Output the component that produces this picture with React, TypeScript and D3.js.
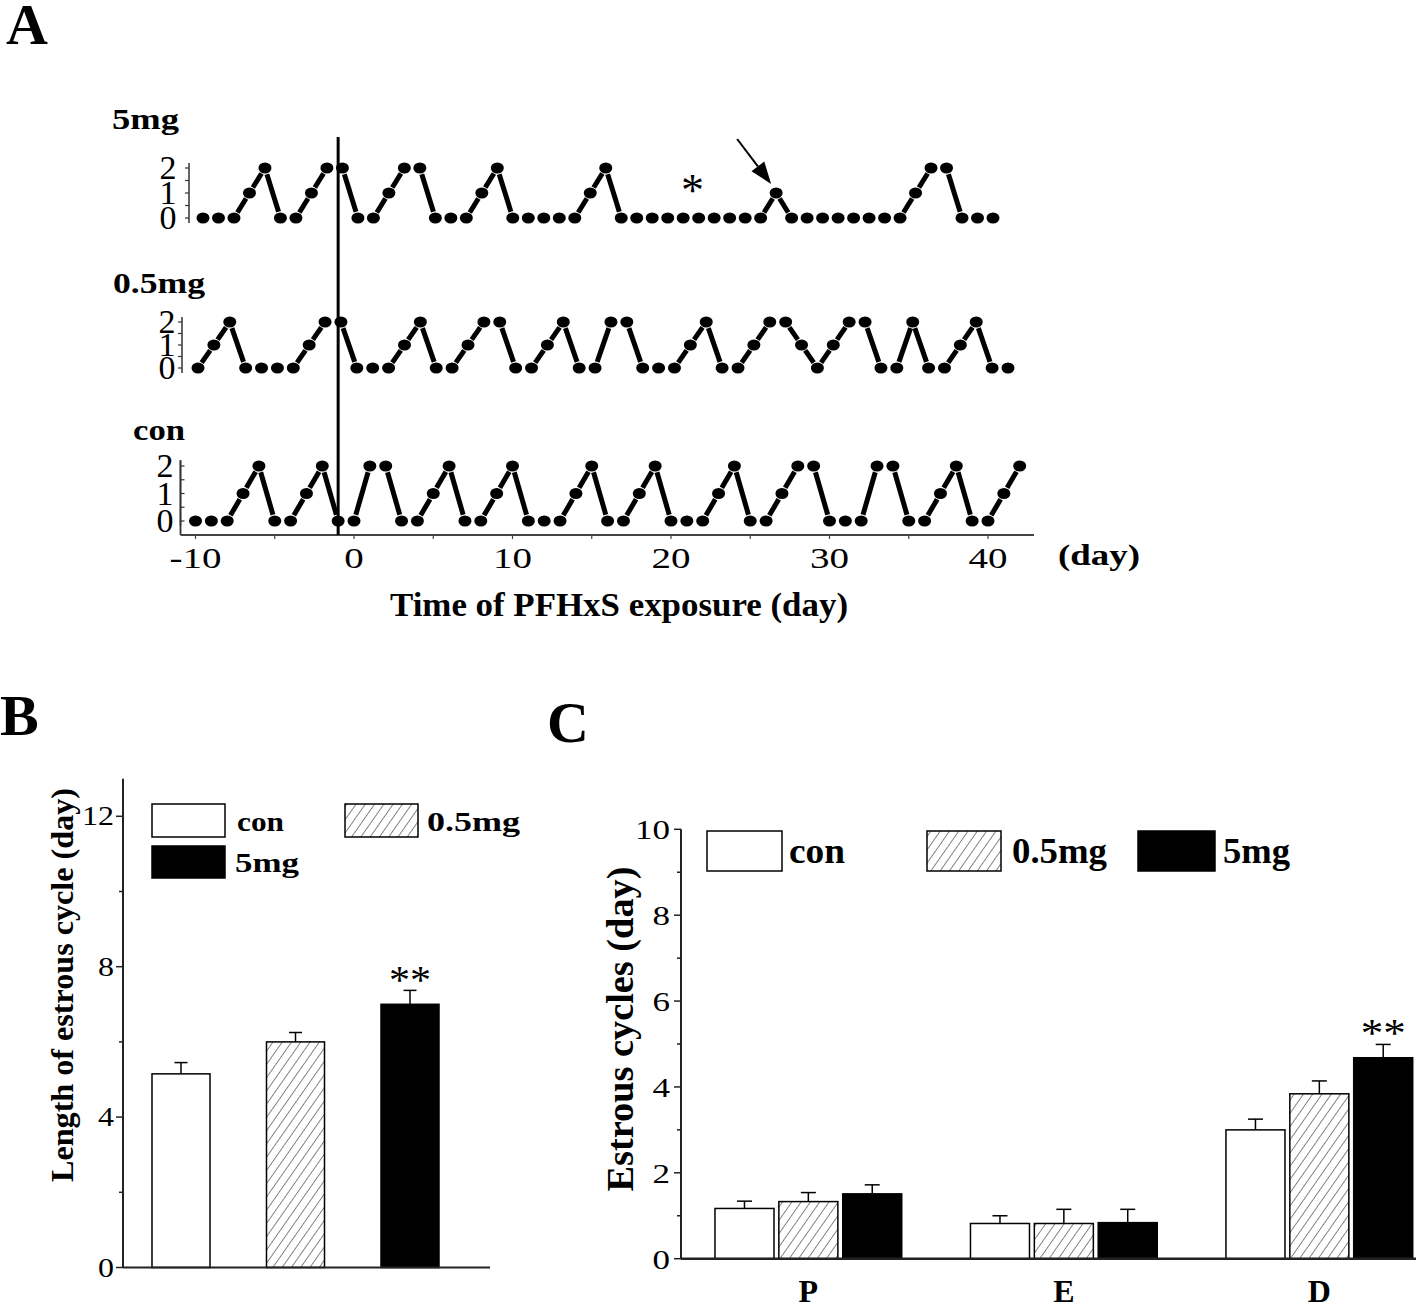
import React from 'react';
import * as d3 from 'd3';

// estrous stage per day (0 = D, 1 = P, 2 = E)
const stageHigh = [0,0,0,1,2, 0,0,1,2,2, 0,0,1,2,2, 0,0,0,1,2, 0,0,0,0,0, 1,2,0,0,0, 0,0,0,0,0, 0,0,1,0,0, 0,0,0,0,0, 0,1,2,2,0, 0,0];
const stageLow = [0,1,2,0,0, 0,0,1,2,2, 0,0,0,1,2, 0,0,1,2,2, 0,0,1,2,0, 0,2,2,0,0, 0,1,2,0,0, 1,2,2,1,0, 1,2,2,0,0, 2,0,0,1,2, 0,0];
const stageCon = [0,0,0,1,2, 0,0,1,2,0, 0,2,2,0,0, 1,2,0,0,1, 2,0,0,0,1, 2,0,0,1,2, 0,0,0,1,2, 0,0,1,2,2, 0,0,0,2,2, 0,0,1,2,0, 0,1,2];
const dayTicks = [-10, 0, 10, 20, 30, 40];
const stageTicks = [0, 1, 2];

// panel B
const groups = ['con', '0.5mg', '5mg'];
const cycleLength = [5.15, 6.0, 7.0];
const cycleLengthErr = [0.3, 0.25, 0.37];
const bTicks = [0, 4, 8, 12];

// panel C
const phases = ['P', 'E', 'D'];
const phaseCon = [1.17, 0.82, 3.0];
const phaseConErr = [0.17, 0.18, 0.25];
const phaseLow = [1.33, 0.82, 3.84];
const phaseLowErr = [0.21, 0.33, 0.3];
const phaseHigh = [1.51, 0.84, 4.68];
const phaseHighErr = [0.21, 0.31, 0.31];
const cTicks = [0, 2, 4, 6, 8, 10];

const serif = 'Liberation Serif, Times New Roman, serif';
const fills = ['#fff', 'url(#hatch)', '#000'];

function Txt(p: any) {
  const extra: any = {};
  if (p.width) {
    extra.textLength = p.width;
    extra.lengthAdjust = 'spacingAndGlyphs';
  }
  return (
    <text
      x={p.x}
      y={p.y}
      transform={p.transform}
      fontSize={p.size}
      style={{ fontFamily: serif }}
      fontWeight={p.bold ? 'bold' : 'normal'}
      textAnchor={p.anchor || 'start'}
      {...extra}
    >
      {p.children}
    </text>
  );
}

function StageRow({ values, xs, ys, axisX, tickSide, labelX }: any) {
  const pts = values.map((v: number, i: number) => [xs(i), ys(v)]);
  const gap = 6.5;
  const segs: any[] = [];
  for (let i = 0; i < pts.length - 1; i++) {
    if (values[i] === values[i + 1]) continue;
    const [ax, ay] = pts[i];
    const [bx, by] = pts[i + 1];
    const len = Math.hypot(bx - ax, by - ay);
    const ux = (bx - ax) / len, uy = (by - ay) / len;
    segs.push(
      <line key={i} x1={ax + ux * gap} y1={ay + uy * gap} x2={bx - ux * gap} y2={by - uy * gap}
        stroke="#000" strokeWidth={5} />
    );
  }
  const minor = [0, 0.5, 1, 1.5, 2];
  return (
    <g>
      <line x1={axisX} x2={axisX} y1={ys(2) - 5} y2={ys(0) + 5} stroke="#333" strokeWidth={1.5} />
      {minor.map(t => (
        <line key={t} x1={axisX} x2={axisX + tickSide * 4} y1={ys(t)} y2={ys(t)} stroke="#333" strokeWidth={1.2} />
      ))}
      {stageTicks.map(t => (
        <Txt key={t} x={labelX} y={ys(t) + 11} size={33} anchor="middle" width={17}>{t}</Txt>
      ))}
      {segs}
      {pts.map(([x, y]: number[], i: number) => (
        <ellipse key={i} cx={x} cy={y} rx={6.5} ry={5.5} fill="#000" />
      ))}
    </g>
  );
}

function PanelA() {
  const xDay = d3.scaleLinear().domain([-10, 40]).range([195.5, 988]);
  const xsHigh = d3.scaleLinear().domain([0, stageHigh.length - 1]).range([203, 993]);
  const xsLow = d3.scaleLinear().domain([0, stageLow.length - 1]).range([198, 1008]);
  const xsCon = (i: number) => xDay(-10 + i);
  const ysHigh = d3.scaleLinear().domain([0, 2]).range([218, 168]);
  const ysLow = d3.scaleLinear().domain([0, 2]).range([368, 322]);
  const ysCon = d3.scaleLinear().domain([0, 2]).range([521, 466]);
  const axisY = 535;

  // arrow pointing at the lone proestrus day of the 5mg rat
  const tipX = xsHigh(37) - 5, tipY = ysHigh(1) - 9;
  const tailX = tipX - 34, tailY = tipY - 45;
  const L = Math.hypot(tipX - tailX, tipY - tailY);
  const ux = (tipX - tailX) / L, uy = (tipY - tailY) / L;
  const bx = tipX - ux * 22, by = tipY - uy * 22;
  const head = `${tipX},${tipY} ${bx - uy * 8},${by + ux * 8} ${bx + uy * 8},${by - ux * 8}`;

  return (
    <g>
      <Txt x={6} y={44} size={58} bold>A</Txt>
      <Txt x={112} y={129} size={30} bold width={67}>5mg</Txt>
      <Txt x={113} y={293} size={30} bold width={92}>0.5mg</Txt>
      <Txt x={133} y={440} size={30} bold width={52}>con</Txt>

      <StageRow values={stageHigh} xs={xsHigh} ys={ysHigh} axisX={189} tickSide={-1} labelX={168} />
      <StageRow values={stageLow} xs={xsLow} ys={ysLow} axisX={182} tickSide={-1} labelX={167} />
      <StageRow values={stageCon} xs={xsCon} ys={ysCon} axisX={180.5} tickSide={1} labelX={165} />

      <line x1={180.5} x2={180.5} y1={460} y2={axisY} stroke="#333" strokeWidth={1.8} />
      <line x1={180.5} x2={1034} y1={axisY} y2={axisY} stroke="#444" strokeWidth={2} />
      {d3.range(-10, 45, 5).map(t => (
        <line key={t} x1={xDay(t)} x2={xDay(t)} y1={axisY} y2={axisY + 4} stroke="#444" strokeWidth={1.2} />
      ))}
      {dayTicks.map(t => (
        <Txt key={t} x={xDay(t)} y={568} size={30} anchor="middle"
          width={String(t).replace('-', '').length * 19.5 + (t < 0 ? 13 : 0)}>{t}</Txt>
      ))}
      <Txt x={1058} y={565} size={30} bold width={82}>(day)</Txt>
      <Txt x={619} y={616} size={34} bold anchor="middle" width={458}>Time of PFHxS exposure (day)</Txt>

      <line x1={xDay(-1)} x2={xDay(-1)} y1={137} y2={axisY} stroke="#000" strokeWidth={3} />

      <Txt x={xsHigh(31.6)} y={206} size={46} anchor="middle" width={23}>*</Txt>
      <line x1={tailX} y1={tailY} x2={bx} y2={by} stroke="#000" strokeWidth={2} />
      <polygon points={head} fill="#000" />
    </g>
  );
}

function ErrBar({ x, yTop, yErr, half }: any) {
  return (
    <g stroke="#000" strokeWidth={1.5}>
      <line x1={x} x2={x} y1={yTop} y2={yErr} />
      <line x1={x - half} x2={x + half} y1={yErr} y2={yErr} />
    </g>
  );
}

function PanelB() {
  const y = d3.scaleLinear().domain([0, 13]).range([1267.5, 778.7]);
  const x = d3.scaleBand().domain(groups).range([124, 467]).paddingInner(0.4934).paddingOuter(0.2445);
  const bw = x.bandwidth();
  const axX = 123;
  return (
    <g>
      <Txt x={0} y={735} size={58} bold>B</Txt>
      <Txt transform={`translate(73,985) rotate(-90)`} size={31} bold anchor="middle" width={394}>
        Length of estrous cycle (day)
      </Txt>
      {groups.map((g, i) => (
        <g key={g}>
          <rect x={x(g)} y={y(cycleLength[i])} width={bw} height={y(0) - y(cycleLength[i])}
            fill={fills[i]} stroke="#000" strokeWidth={1.5} />
          <ErrBar x={(x(g) as number) + bw / 2} yTop={y(cycleLength[i])}
            yErr={y(cycleLength[i] + cycleLengthErr[i])} half={6.5} />
        </g>
      ))}
      <line x1={axX} x2={axX} y1={y(13)} y2={y(0)} stroke="#222" strokeWidth={2} />
      <line x1={axX} x2={490} y1={y(0)} y2={y(0)} stroke="#222" strokeWidth={2} />
      {d3.range(0, 13, 2).map(t => (
        <line key={t} x1={axX} x2={axX - (t % 4 === 0 ? 7 : 4)} y1={y(t)} y2={y(t)} stroke="#222" strokeWidth={1.5} />
      ))}
      {bTicks.map(t => (
        <Txt key={t} x={114} y={y(t) + 9} size={27} anchor="end" width={String(t).length * 16}>{t}</Txt>
      ))}
      <Txt x={(x('5mg') as number) + bw / 2} y={993} size={40} anchor="middle" width={42}>**</Txt>

      <rect x={152} y={804} width={73} height={33} fill="#fff" stroke="#000" strokeWidth={1.5} />
      <Txt x={237} y={831} size={28} bold width={47}>con</Txt>
      <rect x={345} y={804} width={73} height={33} fill="url(#hatch)" stroke="#000" strokeWidth={1.5} />
      <Txt x={427} y={831} size={28} bold width={93}>0.5mg</Txt>
      <rect x={152} y={846} width={73} height={32} fill="#000" stroke="#000" strokeWidth={1.5} />
      <Txt x={235} y={872} size={28} bold width={64}>5mg</Txt>
    </g>
  );
}

function PanelC() {
  const y = d3.scaleLinear().domain([0, 10]).range([1258.7, 829.3]);
  const x = d3.scaleBand().domain(phases).range([681, 1446.7]).paddingInner(0.269).paddingOuter(0.133);
  const xs = d3.scaleBand().domain(groups).range([0, x.bandwidth()]).paddingInner(0.076);
  const bw = xs.bandwidth();
  const series = [
    { vals: phaseCon, errs: phaseConErr },
    { vals: phaseLow, errs: phaseLowErr },
    { vals: phaseHigh, errs: phaseHighErr },
  ];
  const axX = 681;
  return (
    <g>
      <Txt x={547} y={742} size={58} bold>C</Txt>
      <Txt transform={`translate(633,1029) rotate(-90)`} size={37} bold anchor="middle" width={325}>
        Estrous cycles (day)
      </Txt>
      {phases.map((ph, j) => (
        <g key={ph}>
          {series.map((s, i) => {
            const bx = (x(ph) as number) + (xs(groups[i]) as number);
            return (
              <g key={i}>
                <rect x={bx} y={y(s.vals[j])} width={bw} height={y(0) - y(s.vals[j])}
                  fill={fills[i]} stroke="#000" strokeWidth={1.5} />
                <ErrBar x={bx + bw / 2} yTop={y(s.vals[j])} yErr={y(s.vals[j] + s.errs[j])} half={7.5} />
              </g>
            );
          })}
          <Txt x={(x(ph) as number) + x.bandwidth() / 2} y={1302} size={32} bold anchor="middle">{ph}</Txt>
        </g>
      ))}
      <line x1={axX} x2={axX} y1={y(10)} y2={y(0)} stroke="#222" strokeWidth={2} />
      <line x1={axX} x2={1416} y1={y(0)} y2={y(0)} stroke="#222" strokeWidth={2.5} />
      {d3.range(0, 11).map(t => (
        <line key={t} x1={axX} x2={axX - (t % 2 === 0 ? 7 : 4)} y1={y(t)} y2={y(t)} stroke="#222" strokeWidth={1.5} />
      ))}
      {cTicks.map(t => (
        <Txt key={t} x={670} y={y(t) + 10} size={28} anchor="end" width={String(t).length * 17.5}>{t}</Txt>
      ))}
      <Txt x={(x('D') as number) + (xs('5mg') as number) + bw / 2} y={1046} size={40} anchor="middle" width={45}>**</Txt>

      <rect x={707} y={831} width={75} height={40} fill="#fff" stroke="#000" strokeWidth={1.5} />
      <Txt x={789} y={863} size={36} bold width={56}>con</Txt>
      <rect x={927} y={831} width={74} height={40} fill="url(#hatch)" stroke="#000" strokeWidth={1.5} />
      <Txt x={1012} y={863} size={36} bold width={95}>0.5mg</Txt>
      <rect x={1138} y={831} width={77} height={40} fill="#000" stroke="#000" strokeWidth={1.5} />
      <Txt x={1223} y={863} size={36} bold width={67}>5mg</Txt>
    </g>
  );
}

export default function App() {
  return (
    <svg width={1416} height={1306} viewBox="0 0 1416 1306"
      style={{ position: 'absolute', left: 0, top: 0, background: '#fff' }}>
      <defs>
        <pattern id="hatch" patternUnits="userSpaceOnUse" width={7.6} height={7.6} patternTransform="rotate(35)">
          <rect width={7.6} height={7.6} fill="#fff" />
          <line x1={0} y1={0} x2={0} y2={7.6} stroke="#333" strokeWidth={1.2} />
        </pattern>
      </defs>
      <rect width={1416} height={1306} fill="#fff" />
      <PanelA />
      <PanelB />
      <PanelC />
    </svg>
  );
}
